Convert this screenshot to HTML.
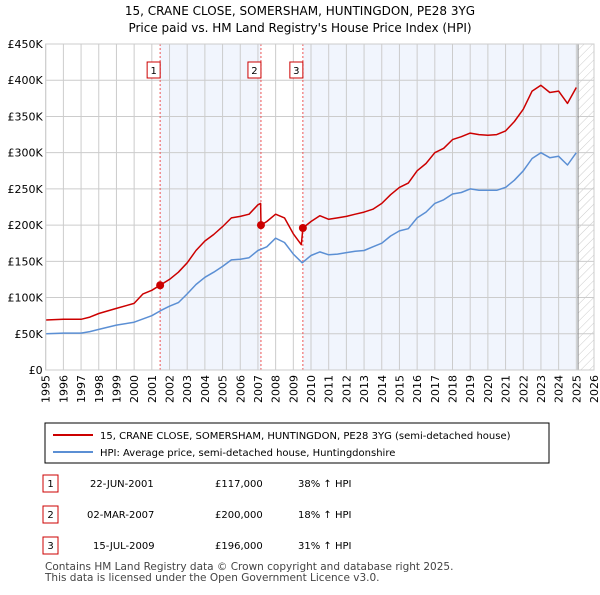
<!DOCTYPE html>
<html><head><meta charset="utf-8"><style>
body{margin:0;background:#fff;font-family:"Liberation Sans","DejaVu Sans",sans-serif;}
</style></head><body>
<svg width="600" height="590" xmlns="http://www.w3.org/2000/svg" font-family="DejaVu Sans, Liberation Sans, sans-serif">
<text x="300" y="15" text-anchor="middle" font-size="12">15, CRANE CLOSE, SOMERSHAM, HUNTINGDON, PE28 3YG</text>
<text x="300" y="32" text-anchor="middle" font-size="12">Price paid vs. HM Land Registry's House Price Index (HPI)</text>
<defs><pattern id="hatch" width="6" height="6" patternUnits="userSpaceOnUse" patternTransform="rotate(45)"><line x1="0" y1="0" x2="0" y2="6" stroke="#ccc" stroke-width="1"/></pattern></defs>
<g id="plot"></g>
<g id="legend">
<rect x="45" y="423" width="504" height="40" fill="#fff" stroke="#000" stroke-width="1"/>
<line x1="53" y1="435" x2="93" y2="435" stroke="#cc0000" stroke-width="2"/>
<text x="100" y="439" font-size="10">15, CRANE CLOSE, SOMERSHAM, HUNTINGDON, PE28 3YG (semi-detached house)</text>
<line x1="53" y1="452" x2="93" y2="452" stroke="#5b8fd4" stroke-width="2"/>
<text x="100" y="456" font-size="10">HPI: Average price, semi-detached house, Huntingdonshire</text>
</g>
<g id="table" font-size="10">
<rect x="43" y="475" width="15" height="17" fill="#fff" stroke="#cc0000"/><text x="50.5" y="487" text-anchor="middle">1</text>
<text x="90" y="487">22-JUN-2001</text><text x="215" y="487">£117,000</text><text x="298" y="487">38% ↑ HPI</text>
<rect x="43" y="506" width="15" height="17" fill="#fff" stroke="#cc0000"/><text x="50.5" y="518" text-anchor="middle">2</text>
<text x="87" y="518">02-MAR-2007</text><text x="215" y="518">£200,000</text><text x="298" y="518">18% ↑ HPI</text>
<rect x="43" y="537" width="15" height="17" fill="#fff" stroke="#cc0000"/><text x="50.5" y="549" text-anchor="middle">3</text>
<text x="93" y="549">15-JUL-2009</text><text x="215" y="549">£196,000</text><text x="298" y="549">31% ↑ HPI</text>
</g>
<text x="45" y="570" font-size="10.5" fill="#444">Contains HM Land Registry data © Crown copyright and database right 2025.</text>
<text x="45" y="581" font-size="10.5" fill="#444">This data is licensed under the Open Government Licence v3.0.</text>
</svg>
<script>
const hpiYears=[1995,1996,1997,1997.5,1998,1999,2000,2001,2001.5,2002,2002.5,2003,2003.5,2004,2004.5,2005,2005.5,2006,2006.5,2007,2007.5,2008,2008.5,2009,2009.5,2010,2010.5,2011,2011.5,2012,2012.5,2013,2013.5,2014,2014.5,2015,2015.5,2016,2016.5,2017,2017.5,2018,2018.5,2019,2019.5,2020,2020.5,2021,2021.5,2022,2022.5,2023,2023.5,2024,2024.5,2025];
const hpiValues=[50,51,51,53,56,62,66,75,82,88,93,105,118,128,135,143,152,153,155,165,170,182,176,160,148,158,163,159,160,162,164,165,170,175,185,192,195,210,218,230,235,243,245,250,248,248,248,252,262,275,292,300,293,295,283,300];
const priceYears=[1995,1996,1997,1997.5,1998,1999,2000,2000.5,2001,2001.47,2002,2002.5,2003,2003.5,2004,2004.5,2005,2005.5,2006,2006.5,2007,2007.15,2007.17,2007.5,2008,2008.5,2009,2009.45,2009.54,2010,2010.5,2011,2011.5,2012,2012.5,2013,2013.5,2014,2014.5,2015,2015.5,2016,2016.5,2017,2017.5,2018,2018.5,2019,2019.5,2020,2020.5,2021,2021.5,2022,2022.5,2023,2023.5,2024,2024.5,2025];
const priceValues=[69,70,70,73,78,85,92,105,110,117,125,135,148,165,178,187,198,210,212,215,228,230,200,205,215,210,188,173,196,205,213,208,210,212,215,218,222,230,242,252,258,275,285,300,306,318,322,327,325,324,325,330,343,360,385,393,383,385,368,390];
const saleYears=[2001.47,2007.17,2009.54];
const saleValues=[117,200,196];
const saleLabels=["1","2","3"];
const yTicks=[0,50,100,150,200,250,300,350,400,450];
const yTickLabels=["£0","£50K","£100K","£150K","£200K","£250K","£300K","£350K","£400K","£450K"];
const xTicks=[1995,1996,1997,1998,1999,2000,2001,2002,2003,2004,2005,2006,2007,2008,2009,2010,2011,2012,2013,2014,2015,2016,2017,2018,2019,2020,2021,2022,2023,2024,2025,2026];
const dataEnd=2025.1;

const L=45.7,R=594,T=44,B=370;
const x=v=>L+(v-1995)*(R-L)/31;
const y=v=>B-v*(B-T)/450;
const g=document.getElementById('plot');
const NS='http://www.w3.org/2000/svg';
function mk(tag,attrs,parent){const e=document.createElementNS(NS,tag);for(const k in attrs)e.setAttribute(k,attrs[k]);(parent||g).appendChild(e);return e;}
let r;
r=mk('rect',{x:L,y:T,width:R-L,height:B-T,fill:'#fff'});


// shading
r=mk('rect',{x:x(saleYears[0]),y:T,width:x(saleYears[1])-x(saleYears[0]),height:B-T,fill:'#eef3fc',opacity:0.8});


r=mk('rect',{x:x(saleYears[2]),y:T,width:x(dataEnd)-x(saleYears[2]),height:B-T,fill:'#eef3fc',opacity:0.8});


r=mk('rect',{x:x(dataEnd),y:T,width:R-x(dataEnd),height:B-T,fill:'url(#hatch)'});


// grid
yTicks.forEach((t,i)=>{
  mk('line',{x1:L,x2:R,y1:y(t),y2:y(t),stroke:'#ccc','stroke-width':1});
  const tx=mk('text',{x:L-3,y:y(t)+4,'text-anchor':'end','font-size':11});
  tx.textContent=yTickLabels[i];
  
  
});
xTicks.forEach(t=>{
  mk('line',{x1:x(t),x2:x(t),y1:T,y2:B,stroke:'#ccc','stroke-width':1});
  const tx=mk('text',{x:0,y:0,'text-anchor':'end','font-size':11,transform:`translate(${x(t)+4},${B+5}) rotate(-90)`});
  tx.textContent=t;
  
  
});
mk('line',{x1:x(dataEnd),x2:x(dataEnd),y1:T,y2:B,stroke:'#888','stroke-width':1});
// sale vlines
saleYears.forEach((s,i)=>{
  const l=mk('line',{x1:x(s),x2:x(s),y1:T,y2:B,stroke:'#e55','stroke-width':1,'stroke-dasharray':'2,2'});
  
  
  const bx=mk('rect',{x:x(s)-13,y:62,width:13,height:16,fill:'#fff',stroke:'#cc0000'});
  
  
  const t=mk('text',{x:x(s)-6.5,y:74,'text-anchor':'middle','font-size':10});
  t.textContent=saleLabels[i];
});
function path(xs,vs,color,name){
  const d=xs.map((v,i)=>(i?'L':'M')+x(v).toFixed(1)+','+y(vs[i]).toFixed(1)).join('');
  const p=mk('path',{d:d,fill:'none',stroke:color,'stroke-width':1.5,'stroke-linejoin':'round'});
  
  
}
path(hpiYears,hpiValues,'#5b8fd4','hpi-line');
path(priceYears,priceValues,'#cc0000','price-line');
saleYears.forEach((s,i)=>{
  const c=mk('circle',{cx:x(s),cy:y(saleValues[i]),r:4,fill:'#cc0000'});
  
  
});
mk('rect',{x:L,y:T,width:R-L,height:B-T,fill:'none',stroke:'#ccc'});
</script>
</body></html>
